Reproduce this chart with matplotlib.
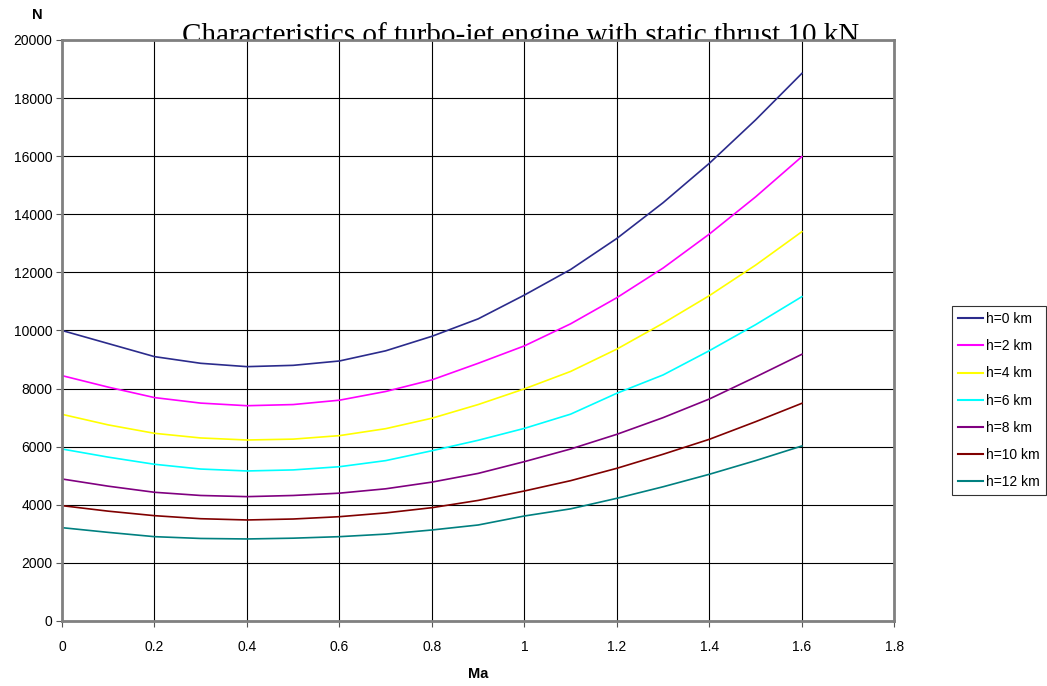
import numpy as np
import matplotlib
matplotlib.use('Agg')
import matplotlib.pyplot as plt
from matplotlib.ticker import FuncFormatter

# Mach numbers and thrust (N) for each altitude
mach = [0, 0.1, 0.2, 0.3, 0.4, 0.5, 0.6, 0.7, 0.8, 0.9, 1.0, 1.1, 1.2, 1.3, 1.4, 1.5, 1.6]

h0 = [10000, 9550, 9100, 8870, 8755, 8800, 8950, 9300, 9800, 10400, 11220, 12100, 13170, 14400, 15756, 17250, 18850]
h2 = [8446, 8050, 7690, 7500, 7410, 7450, 7600, 7900, 8300, 8870, 9470, 10230, 11130, 12150, 13320, 14600, 15985]
h4 = [7114, 6750, 6460, 6300, 6230, 6260, 6380, 6620, 6980, 7450, 7990, 8590, 9360, 10250, 11200, 12250, 13400]
h6 = [5920, 5640, 5394, 5230, 5164, 5200, 5310, 5520, 5860, 6220, 6630, 7120, 7840, 8470, 9305, 10200, 11164]
h8 = [4888, 4640, 4430, 4320, 4280, 4320, 4400, 4550, 4780, 5080, 5485, 5920, 6426, 7000, 7642, 8400, 9180]
h10 = [3970, 3780, 3625, 3520, 3477, 3510, 3590, 3720, 3900, 4150, 4475, 4830, 5256, 5740, 6254, 6860, 7493]
h12 = [3212, 3050, 2902, 2840, 2823, 2850, 2902, 2990, 3132, 3304, 3614, 3860, 4223, 4620, 5050, 5520, 6024]

labels = ['h=0 km', 'h=2 km', 'h=4 km', 'h=6 km', 'h=8 km', 'h=10 km', 'h=12 km']
colors = ['#2b2b8c', '#ff00ff', '#ffff00', '#00ffff', '#800080', '#800000', '#008080']
series = [h0, h2, h4, h6, h8, h10, h12]

plt.rcParams['font.family'] = ['Liberation Sans', 'DejaVu Sans']

fig = plt.figure(figsize=(10.47, 6.86), dpi=100)
ax = fig.add_axes([0.0592, 0.0948, 0.795, 0.8469])

for y, lab, c in zip(series, labels, colors):
    ax.plot(mach, y, color=c, lw=1.2, label=lab)

ax.set_xlim(0, 1.8)
ax.set_ylim(0, 20000)
ax.set_xticks(np.arange(0, 1.81, 0.2))
ax.set_yticks(np.arange(0, 20001, 2000))
ax.xaxis.set_major_formatter(FuncFormatter(lambda v, p: '%g' % round(v, 1)))
ax.grid(True, color='black', lw=0.8)
ax.set_axisbelow(True)
ax.tick_params(labelsize=10, length=4, color='#555555', direction='out', pad=10)
ax.tick_params(axis='y', pad=3)
for s in ax.spines.values():
    s.set_color('#808080')
    s.set_linewidth(2)

# title sits partly behind the plot area, like in the original
fig.text(0.497, 0.937, 'Characteristics of turbo-jet engine with static thrust 10 kN',
         ha='center', va='baseline', fontsize=21, family='Liberation Serif', zorder=-1)
fig.text(0.036, 0.978, 'N', ha='center', va='center', fontsize=10.5, weight='bold')
fig.text(0.457, 0.018, 'Ma', ha='center', va='center', fontsize=10.5, weight='bold')

leg = ax.legend(loc='center left', bbox_to_anchor=(0.9093, 0.416), bbox_transform=fig.transFigure,
                fontsize=10, frameon=True, fancybox=False, edgecolor='black',
                handlelength=1.8, handletextpad=0.2, labelspacing=0.95, borderpad=0.45,
                borderaxespad=0)
leg.get_frame().set_linewidth(0.8)
for l in leg.get_lines():
    l.set_linewidth(1.5)

fig.savefig('out.png', dpi=100)
